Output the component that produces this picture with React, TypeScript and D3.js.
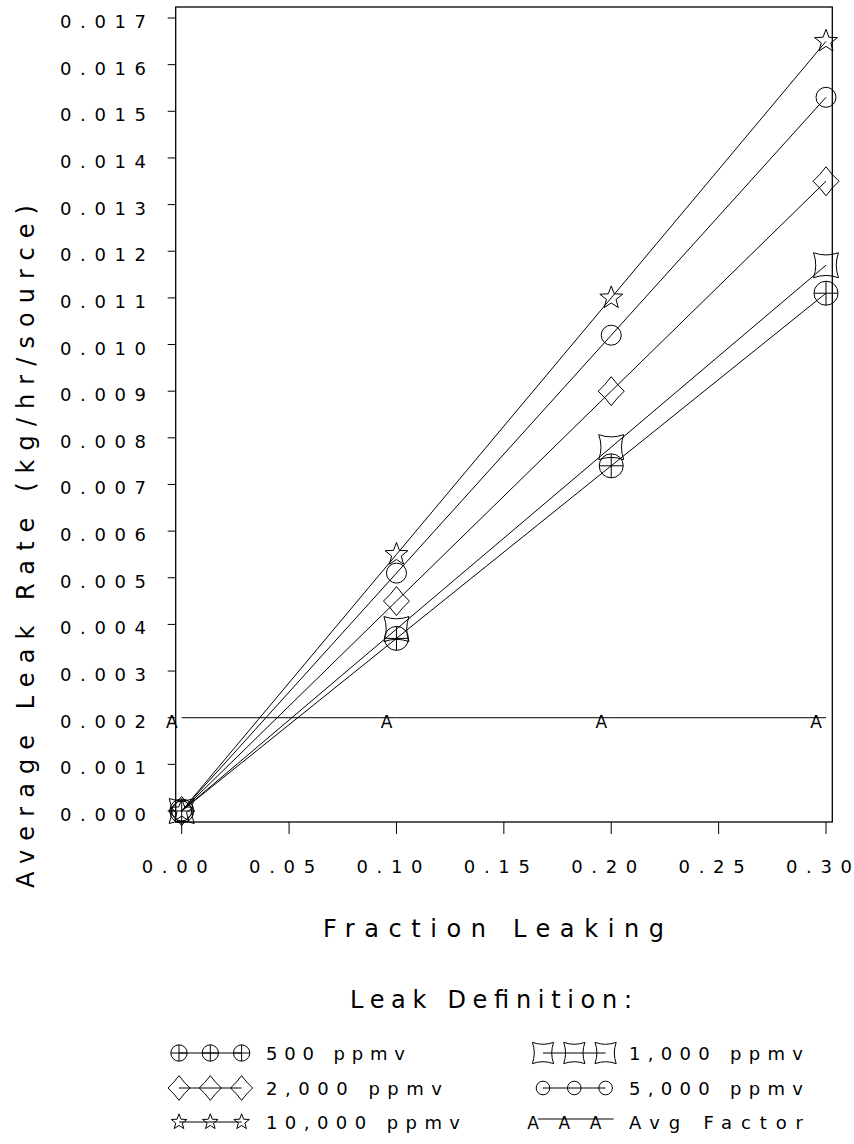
import React from "react";
import * as d3 from "d3";

// ---- data ----
const FRACTION = [0, 0.1, 0.2, 0.3];
const PPMV_500 = [0, 0.0037, 0.0074, 0.0111];
const PPMV_1000 = [0, 0.0039, 0.0078, 0.0117];
const PPMV_2000 = [0, 0.0045, 0.009, 0.0135];
const PPMV_5000 = [0, 0.0051, 0.0102, 0.0153];
const PPMV_10000 = [0, 0.0055, 0.011, 0.0165];
const AVG_FACTOR = [0.002, 0.002, 0.002, 0.002];

const Y_TICKS = [0, 0.001, 0.002, 0.003, 0.004, 0.005, 0.006, 0.007, 0.008, 0.009, 0.01, 0.011, 0.012, 0.013, 0.014, 0.015, 0.016, 0.017];
const X_TICKS = [0, 0.05, 0.1, 0.15, 0.2, 0.25, 0.3];

const X_TITLE = "Fraction Leaking";
const Y_TITLE = "Average Leak Rate (kg/hr/source)";
const LEGEND_TITLE = "Leak Definition:";

type Sym = "circleplus" | "concave" | "diamond" | "circle" | "star" | "A";

const SERIES: { name: string; values: number[]; sym: Sym }[] = [
  { name: "500 ppmv", values: PPMV_500, sym: "circleplus" },
  { name: "1,000 ppmv", values: PPMV_1000, sym: "concave" },
  { name: "2,000 ppmv", values: PPMV_2000, sym: "diamond" },
  { name: "5,000 ppmv", values: PPMV_5000, sym: "circle" },
  { name: "10,000 ppmv", values: PPMV_10000, sym: "star" },
  { name: "Avg Factor", values: AVG_FACTOR, sym: "A" },
];

// legend order: left column then right column per row
const LEGEND_ORDER = ["500 ppmv", "1,000 ppmv", "2,000 ppmv", "5,000 ppmv", "10,000 ppmv", "Avg Factor"];
const LEGEND_TEXT_LEN: Record<string, number> = {
  "500 ppmv": 139,
  "1,000 ppmv": 174,
  "2,000 ppmv": 176,
  "5,000 ppmv": 174,
  "10,000 ppmv": 194,
  "Avg Factor": 174,
};

const FONT = "DejaVu Sans, Liberation Sans, sans-serif";

function symbolPath(sym: Sym, s: number): string {
  // s = scale factor (1 for plot size)
  if (sym === "circleplus") {
    const r = 12 * s;
    return `M${-r},0 A${r},${r} 0 1,0 ${r},0 A${r},${r} 0 1,0 ${-r},0 M${-r},0 L${r},0 M0,${-r} L0,${r}`;
  }
  if (sym === "circle") {
    const r = 10 * s;
    return `M${-r},0 A${r},${r} 0 1,0 ${r},0 A${r},${r} 0 1,0 ${-r},0 Z`;
  }
  if (sym === "diamond") {
    const w = 13 * s, h = 14.5 * s;
    const k = 0.9;
    return `M0,${-h} Q${(w / 2) * k},${(-h / 2) * k} ${w},0 Q${(w / 2) * k},${(h / 2) * k} 0,${h} Q${(-w / 2) * k},${(h / 2) * k} ${-w},0 Q${(-w / 2) * k},${(-h / 2) * k} 0,${-h} Z`;
  }
  if (sym === "concave") {
    const h = 12.5 * s, c = 8 * s;
    return `M${-h},${-h} Q0,${-c} ${h},${-h} Q${c},0 ${h},${h} Q0,${c} ${-h},${h} Q${-c},0 ${-h},${-h} Z`;
  }
  if (sym === "star") {
    const R = 12 * s, r = R * 0.42;
    const pts: string[] = [];
    for (let i = 0; i < 10; i++) {
      const a = -Math.PI / 2 + (i * Math.PI) / 5;
      const rr = i % 2 === 0 ? R : r;
      pts.push(`${(rr * Math.cos(a)).toFixed(2)},${(rr * Math.sin(a)).toFixed(2)}`);
    }
    return "M" + pts.join("L") + "Z";
  }
  return "";
}

function Marker({ sym, x, y, s }: { sym: Sym; x: number; y: number; s: number }) {
  if (sym === "A") {
    return (
      <text x={x - 10 * s} y={y + 10 * s} fontFamily={FONT} fontSize={17 * s} textAnchor="middle" fill="#000">
        A
      </text>
    );
  }
  return <path d={symbolPath(sym, s)} transform={`translate(${x},${y})`} fill="none" stroke="#000" strokeWidth={1} />;
}

export default function App() {
  const W = 854, H = 1144;
  const x = d3.scaleLinear().domain([0, 0.3]).range([181.7, 826]);
  const y = d3.scaleLinear().domain([0, 0.017]).range([811, 18]);

  const frameL = x(0) - 6, frameR = x(0.3) + 6.3, frameT = y(0.017) - 11, frameB = y(0) + 11;

  const line = d3
    .line<number>()
    .x((_, i) => x(FRACTION[i]))
    .y((d) => y(d));

  const fmtY = d3.format(".3f");
  const fmtX = d3.format(".2f");

  const rowY = [1053, 1088, 1122];
  const colSym = [179, 543];
  const colText = [266, 629];
  const symGap = 31.3;

  return (
    <svg width={W} height={H} style={{ position: "absolute", left: 0, top: 0, background: "#fff" }}>
      <rect x={0} y={0} width={W} height={H} fill="#fff" />
      {/* frame */}
      <rect x={frameL} y={frameT} width={frameR - frameL} height={frameB - frameT} fill="none" stroke="#000" strokeWidth={1.3} />

      {/* y ticks */}
      {Y_TICKS.map((t) => (
        <g key={"y" + t}>
          <line x1={frameL - 8} x2={frameL} y1={y(t)} y2={y(t)} stroke="#000" strokeWidth={1} />
          <text x={60} y={y(t) + 10} fontFamily={FONT} fontSize={18} textLength={86} lengthAdjust="spacing" fill="#000">
            {fmtY(t)}
          </text>
        </g>
      ))}

      {/* x ticks */}
      {X_TICKS.map((t) => (
        <g key={"x" + t}>
          <line x1={x(t)} x2={x(t)} y1={frameB} y2={frameB + 12} stroke="#000" strokeWidth={1} />
          <text x={x(t) - 40} y={873} fontFamily={FONT} fontSize={18} textLength={66} lengthAdjust="spacing" fill="#000">
            {fmtX(t)}
          </text>
        </g>
      ))}

      {/* axis titles */}
      <text x={493.5} y={937} fontFamily={FONT} fontSize={24} textAnchor="middle" textLength={341} lengthAdjust="spacing" fill="#000">
        {X_TITLE}
      </text>
      <text
        transform={`translate(34,546.5) rotate(-90)`}
        fontFamily={FONT}
        fontSize={24}
        textAnchor="middle"
        textLength={683}
        lengthAdjust="spacing"
        fill="#000"
      >
        {Y_TITLE}
      </text>

      {/* series lines */}
      {SERIES.map((s) => (
        <path key={"l" + s.name} d={line(s.values) || ""} fill="none" stroke="#000" strokeWidth={1} />
      ))}
      {/* markers */}
      {SERIES.map((s) =>
        s.values.map((v, i) => <Marker key={s.name + i} sym={s.sym} x={x(FRACTION[i])} y={y(v)} s={1} />)
      )}

      {/* legend */}
      <text x={491} y={1008} fontFamily={FONT} fontSize={24} textAnchor="middle" textLength={282} lengthAdjust="spacing" fill="#000">
        {LEGEND_TITLE}
      </text>
      {LEGEND_ORDER.map((name, k) => {
        const s = SERIES.find((d) => d.name === name)!;
        const col = k % 2;
        const row = Math.floor(k / 2);
        const cy = rowY[row];
        const cx0 = colSym[col];
        const xs = [cx0, cx0 + symGap, cx0 + 2 * symGap];
        const isA = s.sym === "A";
        return (
          <g key={"lg" + name}>
            <line
              x1={isA ? xs[0] - 5 : xs[0]}
              x2={isA ? xs[2] + 8 : xs[2]}
              y1={isA ? cy - 3 : cy}
              y2={isA ? cy - 3 : cy}
              stroke="#000"
              strokeWidth={1}
            />
            {xs.map((cx, j) => (
              <Marker key={j} sym={s.sym} x={cx} y={isA ? cy - 3 : cy} s={isA ? 1 : s.sym === "concave" || s.sym === "diamond" ? 0.85 : 0.68} />
            ))}
            <text x={colText[col]} y={cy + 7} fontFamily={FONT} fontSize={18} textLength={LEGEND_TEXT_LEN[name]} lengthAdjust="spacing" fill="#000">
              {name}
            </text>
          </g>
        );
      })}
    </svg>
  );
}
